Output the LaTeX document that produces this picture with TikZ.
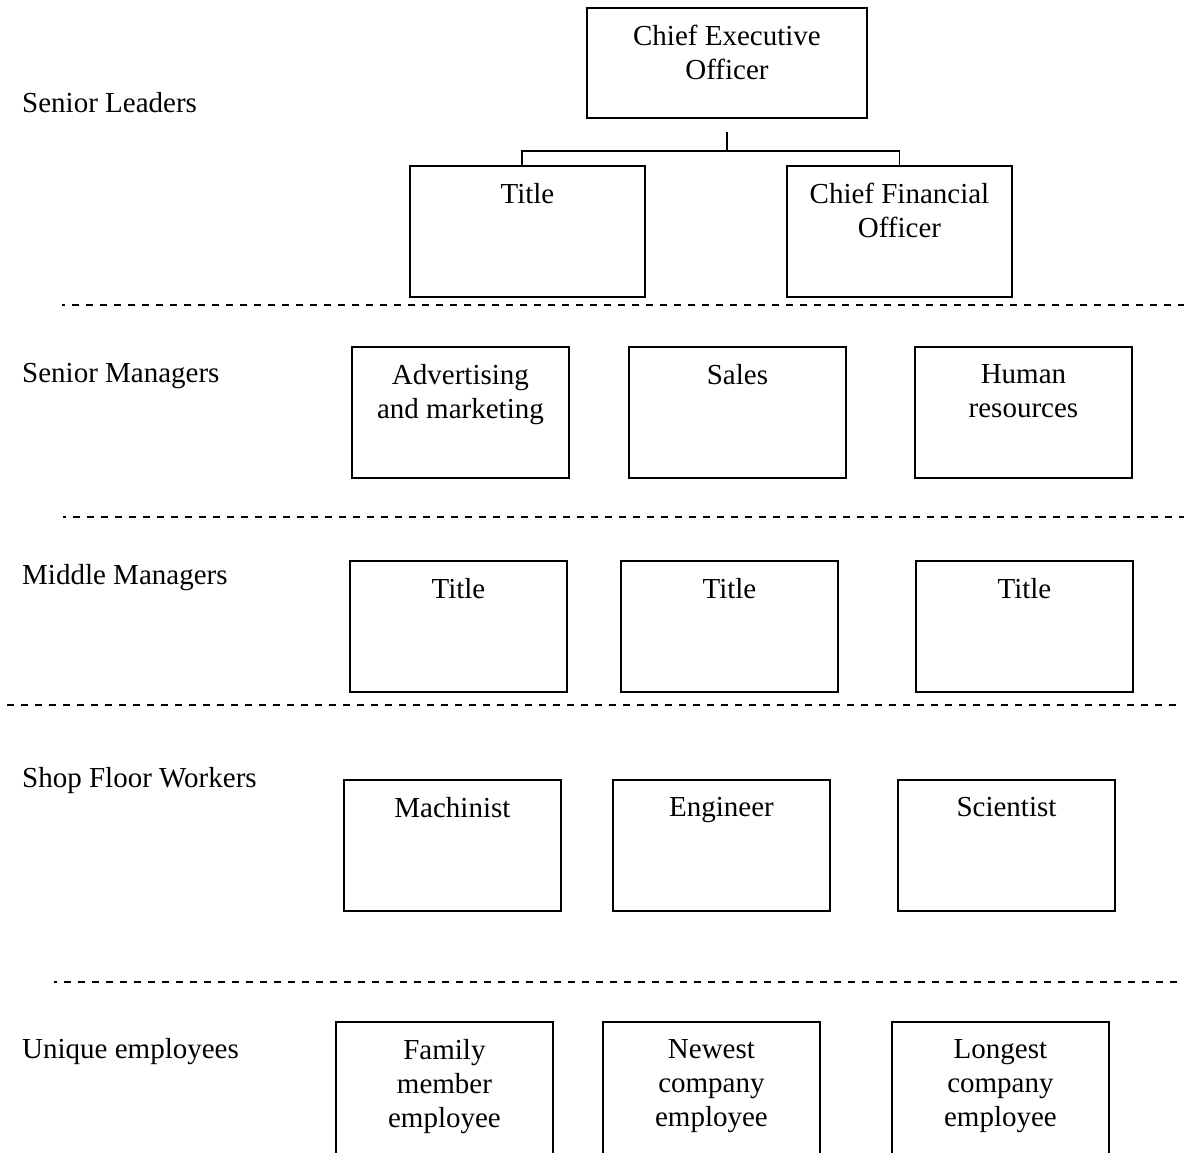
\documentclass[tikz,border=0pt]{standalone}
\usepackage{fontspec}
\setmainfont{Liberation Serif}
\tikzset{
  orgbox/.style={draw, line width=1.9pt, inner sep=0pt, anchor=north west,
    minimum width=217pt, minimum height=131pt},
  boxtext/.style={anchor=north, yshift=-18pt, align=center, inner sep=0pt},
  level/.style={anchor=base west, inner sep=0pt},
  divider/.style={line width=2.2pt, dash pattern=on 7pt off 7pt},
  link/.style={line width=1.5pt}
}

\begin{document}
\begin{tikzpicture}[x=1pt,y=-1pt,font=\fontsize{29}{34}\selectfont]
\useasboundingbox (0,0) rectangle (1184,1152);
\clip (0,0) rectangle (1184,1152);
% level names
\node[level] (lvlleaders) at (22,112) {Senior Leaders};
\node[level] (lvlsenior) at (22,382) {Senior Managers};
\node[level] (lvlmiddle) at (22,584) {Middle Managers};
\node[level] (lvlshop) at (22,787) {Shop Floor Workers};
\node[level] (lvlunique) at (22,1058) {Unique employees};
% senior leaders
\node[orgbox,minimum width=280pt,minimum height=110pt,label={[boxtext]north:{Chief Executive\\Officer}}] (ceo) at (586,7) {};
\node[orgbox,minimum width=235pt,label={[boxtext]north:Title}] (title) at (409,165) {};
\node[orgbox,minimum width=225pt,label={[boxtext]north:{Chief Financial\\Officer}}] (cfo) at (786,165) {};
\coordinate (fork) at ([yshift=-32pt]ceo.south);
\draw[link] ([yshift=-13pt]ceo.south) -- (fork);
\draw[link] ([xshift=-5.5pt]title.north) |- (fork) -| (cfo.north);
% senior managers
\node[orgbox,label={[boxtext]north:{Advertising\\and marketing}}] (advert) at (351,346) {};
\node[orgbox,label={[boxtext]north:Sales}] (sales) at (628,346) {};
\node[orgbox,label={[boxtext]north:{Human\\resources}}] (hr) at (914,346) {};
% middle managers
\node[orgbox,label={[boxtext]north:Title}] (midone) at (349,560) {};
\node[orgbox,label={[boxtext]north:Title}] (midtwo) at (620,560) {};
\node[orgbox,label={[boxtext]north:Title}] (midthree) at (915,560) {};
% shop floor workers
\node[orgbox,label={[boxtext]north:Machinist}] (machinist) at (343,779) {};
\node[orgbox,label={[boxtext]north:Engineer}] (engineer) at (612,779) {};
\node[orgbox,label={[boxtext]north:Scientist}] (scientist) at (897,779) {};
% unique employees (cut off at the bottom)
\node[orgbox,minimum height=160pt,label={[boxtext]north:{Family\\member\\employee}}] (family) at (335,1021) {};
\node[orgbox,minimum height=160pt,label={[boxtext]north:{Newest\\company\\employee}}] (newest) at (602,1021) {};
\node[orgbox,minimum height=160pt,label={[boxtext]north:{Longest\\company\\employee}}] (longest) at (891,1021) {};
% dividers
\draw[divider,dash phase=4pt] (62,305) -- (1184,305);
\draw[divider,dash phase=4pt] (63,517) -- (1184,517);
\draw[divider] (7,705) -- (1178,705);
\draw[divider,dash phase=4pt] (54,982) -- (1178,982);
\end{tikzpicture}
\end{document}
